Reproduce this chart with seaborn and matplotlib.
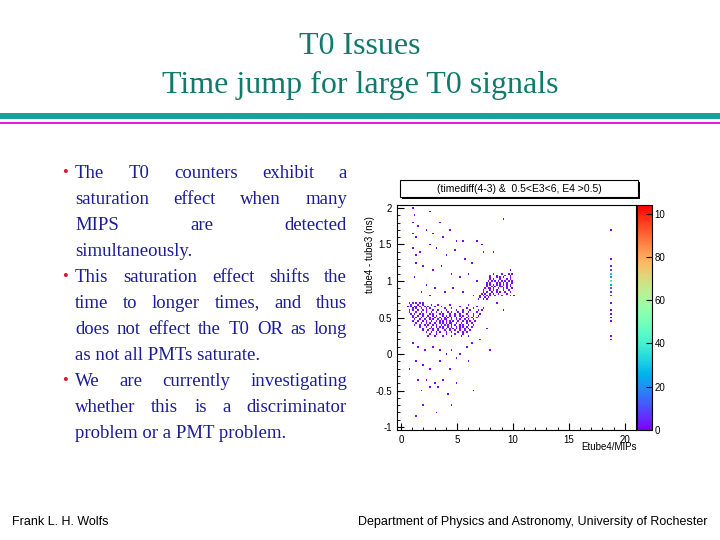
import numpy as np
import pandas as pd
import matplotlib
matplotlib.use("Agg")
import matplotlib.pyplot as plt
import seaborn as sns
from matplotlib.patches import Rectangle

# ---- data: occupied cells of the 2D histogram ----
band_rows = {
    0.70: [0.8, 1.0, 1.1, 1.3, 1.6, 2.0],
    0.65: [0.7, 0.9, 1.2, 1.4, 1.7, 2.1, 2.4, 3.0, 3.6, 5.2, 6.8],
    0.60: [0.8, 1.0, 1.1, 1.5, 1.9, 2.3, 2.8, 3.3, 4.1, 4.9, 5.6, 6.2, 6.9, 7.2],
    0.55: [0.9, 1.2, 1.6, 2.0, 2.5, 2.9, 3.4, 3.8, 4.4, 4.8, 5.3, 5.9, 6.4, 7.0],
    0.50: [1.0, 1.3, 1.8, 2.2, 2.6, 3.0, 3.5, 3.9, 4.2, 4.6, 5.0, 5.4, 5.8, 6.3, 6.7],
    0.45: [1.1, 1.5, 1.9, 2.3, 2.7, 3.1, 3.4, 3.7, 4.0, 4.3, 4.7, 5.1, 5.5, 5.9, 6.2, 6.6],
    0.40: [1.2, 1.7, 2.1, 2.4, 2.8, 3.2, 3.6, 3.9, 4.2, 4.5, 4.8, 5.2, 5.6, 6.0, 6.4],
    0.35: [2.0, 2.5, 2.9, 3.3, 3.7, 4.0, 4.4, 4.7, 5.0, 5.3, 5.7, 6.1],
    0.30: [2.2, 2.7, 3.1, 3.5, 4.1, 4.6, 5.1, 5.5, 5.9],
    0.25: [2.4, 3.0, 3.8, 4.5, 5.4, 6.0],
    1.10: [8.3, 9.0, 9.6, 9.9],
    1.05: [7.9, 8.5, 8.8, 9.2, 9.7],
    1.00: [7.8, 8.1, 8.4, 8.7, 9.0, 9.3, 9.6, 9.9],
    0.95: [7.6, 7.9, 8.2, 8.6, 8.9, 9.1, 9.4, 9.8],
    0.90: [7.5, 7.8, 8.0, 8.3, 8.7, 9.2, 9.5, 9.9],
    0.85: [7.3, 7.7, 8.1, 8.5, 8.8, 9.3, 9.7],
    0.80: [7.1, 7.4, 7.6, 8.0, 8.4, 9.0, 9.8],
    0.75: [6.9, 7.3, 7.7],
}
# second pass of cells in the dense band, between the ones above
band_rows_fill = {
    0.675: [0.9, 1.5, 1.9, 2.7, 3.3, 4.4, 6.1],
    0.625: [1.0, 1.3, 1.8, 2.2, 2.6, 3.9, 4.6, 5.9, 6.5, 7.3],
    0.575: [0.8, 1.4, 1.8, 2.2, 2.7, 3.1, 3.6, 4.2, 4.6, 5.1, 5.6, 6.1, 6.7],
    0.525: [1.1, 1.5, 2.0, 2.4, 2.8, 3.2, 3.7, 4.0, 4.4, 4.8, 5.2, 5.6, 6.0, 6.5, 6.9],
    0.475: [1.2, 1.7, 2.1, 2.5, 2.9, 3.3, 3.6, 3.9, 4.1, 4.5, 4.9, 5.3, 5.7, 6.1, 6.4],
    0.425: [1.4, 1.8, 2.2, 2.6, 3.0, 3.4, 3.8, 4.1, 4.4, 4.6, 5.0, 5.4, 5.8, 6.3],
    0.375: [1.6, 2.3, 2.7, 3.1, 3.5, 3.8, 4.2, 4.6, 4.9, 5.2, 5.5, 5.9, 6.3],
    0.325: [1.9, 2.4, 2.8, 3.3, 3.9, 4.3, 4.8, 5.3, 5.7, 6.2],
    0.275: [2.6, 3.2, 4.0, 4.8, 5.6],
    1.075: [8.0, 8.6, 9.3, 9.8],
    1.025: [8.0, 8.3, 8.9, 9.4, 9.8],
    0.975: [7.7, 8.0, 8.5, 8.8, 9.2, 9.5, 9.9],
    0.925: [7.6, 8.1, 8.4, 8.8, 9.0, 9.4, 9.7],
    0.875: [7.4, 7.9, 8.2, 8.6, 9.1, 9.6],
    0.825: [7.2, 7.5, 7.9, 8.2, 8.7, 9.5],
    0.775: [7.0, 7.5, 7.8],
}
scatter_x = [1.2, 1.0, 1.5, 1.1, 1.3, 2.2, 2.9, 3.8, 4.4, 5.0, 5.5, 6.7, 1.0, 1.6, 2.5,
             3.2, 4.1, 4.8, 5.7, 6.3, 7.4, 1.4, 2.0, 2.8, 3.6, 4.5, 5.3, 6.1, 6.8, 1.2,
             2.3, 3.0, 3.9, 4.7, 5.5, 6.4, 1.8, 2.6, 7.2, 8.3, 1.1, 2.6, 9.1, 1.4, 3.5,
             1.0, 1.5, 2.1, 2.8, 3.4, 4.0, 4.6, 5.2, 5.8, 6.3, 7.0, 7.7, 1.3, 2.0, 2.6,
             3.5, 4.3, 5.0, 6.0, 0.8, 1.5, 2.3, 3.0, 3.7, 4.9, 1.8, 2.6, 3.3, 4.2, 6.5,
             2.0, 4.6, 1.4, 3.2, 8.0, 8.6, 9.2, 10.0, 9.8]
scatter_y = [1.90, 1.80, 1.75, 1.65, 1.60, 1.70, 1.65, 1.60, 1.70, 1.55, 1.55, 1.55, 1.45, 1.40, 1.50,
             1.45, 1.35, 1.42, 1.30, 1.25, 1.40, 1.25, 1.20, 1.15, 1.20, 1.10, 1.05, 1.10, 1.00, 1.05,
             0.95, 0.90, 0.85, 0.90, 0.85, 0.80, 0.85, 0.80, 1.50, 1.40, 2.00, 1.95, 1.85, 1.35, 1.80,
             0.15, 0.10, 0.05, 0.10, 0.05, 0.00, 0.05, 0.00, 0.10, 0.15, 0.20, 0.35, -0.10, -0.15, -0.20,
             -0.10, -0.20, -0.05, -0.10, -0.20, -0.35, -0.35, -0.40, -0.35, -0.40, -0.50, -0.45, -0.45, -0.55, -0.50,
             -0.70, -0.70, -0.85, -0.80, 0.05, 0.70, 0.60, 0.80, 1.15]
column_x = 18.8
column_y = [0.20, 0.25, 0.45, 0.50, 0.55, 0.60, 0.70, 0.80, 0.85, 0.90, 0.95, 1.00,
            1.05, 1.10, 1.15, 1.20, 1.30, 1.70]
column_w = [1, 1, 1, 1, 2, 1, 2, 3, 5, 15, 25, 40, 20, 30, 8, 3, 1, 1]

rows = []
for table in (band_rows, band_rows_fill):
    for y, xs in table.items():
        rows += [(x, y, 2) for x in xs]
rows += [(x, y, 1) for x, y in zip(scatter_x, scatter_y)]
rows += [(column_x, y, w) for y, w in zip(column_y, column_w)]
df = pd.DataFrame(rows, columns=["x", "y", "w"])

title_lines = ["T0 Issues", "Time jump for large T0 signals"]
bullets = [
    ["The T0 counters exhibit a", "saturation effect when many",
     "MIPS are detected", "simultaneously."],
    ["This saturation effect shifts the", "time to longer times, and thus",
     "does not effect the T0 OR as long", "as not all PMTs saturate."],
    ["We are currently investigating", "whether this is a discriminator",
     "problem or a PMT problem."],
]

fig = plt.figure(figsize=(7.2, 5.4), dpi=100)
W, H = 720, 540

def fx(px):
    return px / W

def fy(py):
    return 1 - py / H

teal = "#117a6c"
for i, t in enumerate(title_lines):
    fig.text(0.5, fy(47 + 38 * i), t, ha="center", va="center", color=teal,
             fontsize=23, family="Liberation Serif")
fig.add_artist(Rectangle((0, fy(119)), 1, 6 / H, transform=fig.transFigure,
                         color="#1aa0a0", lw=0))
fig.add_artist(Rectangle((0, fy(124)), 1, 2 / H, transform=fig.transFigure,
                         color="#e020e0", lw=0))

# bullet text, justified between x=75 and x=347
fig.canvas.draw()
rend = fig.canvas.get_renderer()
navy = "#1c1c9a"
left, right = 75, 347
line_y = 173
for para in bullets:
    fig.text(fx(62), fy(line_y), "\u2022", color="#e0102a", fontsize=12,
             va="center", family="Liberation Serif")
    for j, line in enumerate(para):
        words = line.split()
        justify = j < len(para) - 1 and len(words) > 1
        if not justify:
            fig.text(fx(left), fy(line_y), line, color=navy, fontsize=13.5,
                     va="center", family="Liberation Serif")
        else:
            arts = [fig.text(0, fy(line_y), w_, color=navy, fontsize=13.5,
                             va="center", family="Liberation Serif") for w_ in words]
            widths = [a.get_window_extent(rend).width for a in arts]
            gap = (right - left - sum(widths)) / (len(words) - 1)
            x = left
            for a, wd in zip(arts, widths):
                a.set_x(fx(x))
                x += wd + gap
        line_y += 26

fig.text(fx(12), fy(522), "Frank L. H. Wolfs", fontsize=9, va="center",
         family="Liberation Sans")
fig.text(fx(707), fy(522), "Department of Physics and Astronomy, University of Rochester",
         fontsize=9, va="center", ha="right", family="Liberation Sans")

# ---- the histogram ----
ax = fig.add_axes([fx(397), fy(430), fx(636) - fx(397), fy(205) - fy(430)])
cax = fig.add_axes([fx(637), fy(430), fx(652) - fx(637), fy(205) - fy(430)])
sns.histplot(data=df, x="x", y="y", weights="w",
             bins=[np.arange(-0.35, 21.01, 0.15), np.arange(-1.0375, 2.05, 0.025)],
             cmap="rainbow", vmin=0, vmax=104, cbar=True, cbar_ax=cax, ax=ax)
ax.set_xlim(-0.35, 21)
ax.set_ylim(-1.04, 2.04)
ax.set_xticks([0, 5, 10, 15, 20])
ax.set_yticks([-1, -0.5, 0, 0.5, 1, 1.5, 2])
ax.set_yticklabels(["-1", "-0.5", "0", "0.5", "1", "1.5", "2"])
ax.minorticks_on()
ax.tick_params(which="both", direction="in", labelsize=7, top=False, right=False)
ax.tick_params(which="major", length=5)
ax.tick_params(which="minor", length=2.5)
ax.set_xlabel("")
ax.set_ylabel("tube4 - tube3 (ns)", fontsize=7, family="Liberation Sans",
              labelpad=2)
ax.yaxis.set_label_coords(-0.09, 0.78)
fig.text(fx(637), fy(447), "Etube4/MIPs", ha="right", va="center", fontsize=7,
         family="Liberation Sans")
for lbl in ax.get_xticklabels() + ax.get_yticklabels():
    lbl.set_family("Liberation Sans")
for s in ax.spines.values():
    s.set_linewidth(0.8)

cax.set_yticks([0, 20, 40, 60, 80, 100])
cax.set_yticklabels(["0", "20", "40", "60", "80", "10"])
cax.tick_params(direction="in", labelsize=7, length=4, pad=2)
for lbl in cax.get_yticklabels():
    lbl.set_family("Liberation Sans")

# title box with a drop shadow
fig.add_artist(Rectangle((fx(402), fy(199)), fx(638) - fx(400), 17 / H,
                         transform=fig.transFigure, color="black", lw=0))
fig.add_artist(Rectangle((fx(400), fy(197)), fx(638) - fx(400), 17 / H,
                         transform=fig.transFigure, facecolor="white",
                         edgecolor="black", lw=0.8))
fig.text(fx(519), fy(188.5), "(timediff(4-3) &  0.5<E3<6, E4 >0.5)", ha="center",
         va="center", fontsize=7.5, family="Liberation Sans")

fig.savefig("out.png", dpi=100)
